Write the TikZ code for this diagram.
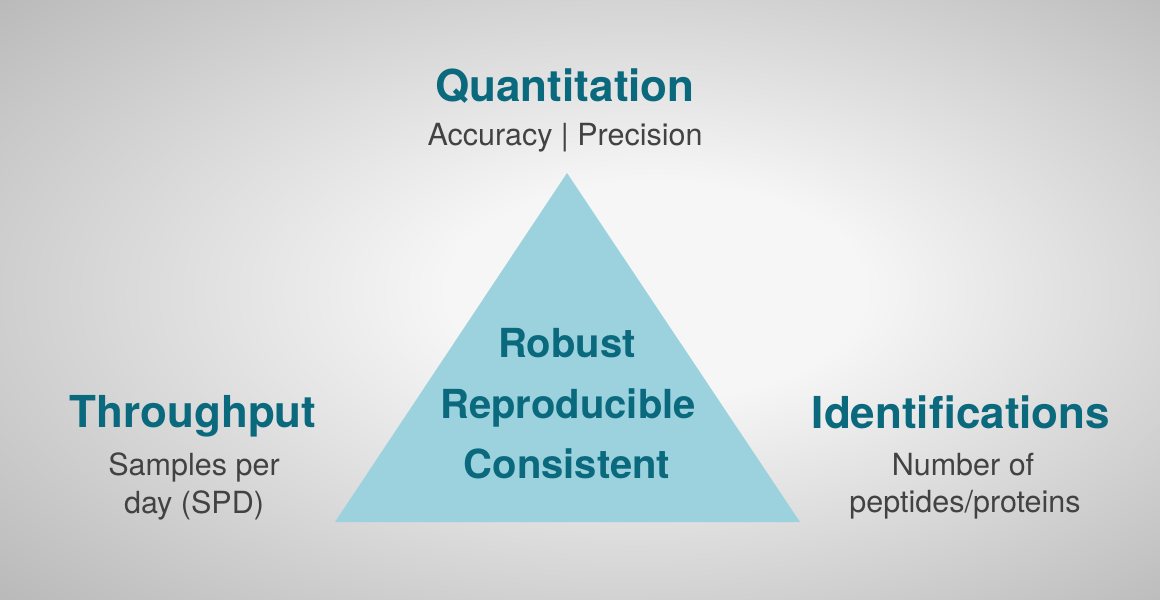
\documentclass[tikz,border=0pt]{standalone}
\usepackage{fontspec}
\setmainfont{TeX Gyre Heros}
\definecolor{bgin}{HTML}{F6F6F6}
\definecolor{bgout}{HTML}{BABABA}
\definecolor{tri}{HTML}{9BD2DE}
\definecolor{teal}{HTML}{0B697D}
\definecolor{subgrey}{HTML}{424242}
\pgfdeclareradialshading{bgshade}{\pgfpoint{4bp}{1bp}}{color(0bp)=(bgin); color(9bp)=(bgin); color(36bp)=(bgout); color(50bp)=(bgout)}
\tikzset{
  head/.style={text=teal, font=\bfseries\fontsize{44}{48}\selectfont, anchor=base, inner sep=0pt},
  sub/.style={text=subgrey, font=\fontsize{30.5}{34}\selectfont, anchor=base, inner sep=0pt},
  core/.style={text=teal, font=\bfseries\fontsize{40}{44}\selectfont, anchor=base, inner sep=0pt},
}
\begin{document}
\begin{tikzpicture}[x=1pt,y=-1pt]
\useasboundingbox (0,0) rectangle (1160,600);
\shade[shading=bgshade] (0,0) rectangle (1160,600);
% triangle
\coordinate (apex) at (567,173);
\coordinate (bl) at (335,522);
\coordinate (br) at (800,522);
\fill[tri] (apex) -- (br) -- (bl) -- cycle;
% top
\node[head] (quant) at (565,101) {Quantitation};
\node[sub] (quantsub) at (565,145) {Accuracy | Precision};
% centre
\node[core] (robust) at (567,357) {Robust};
\node[core] (repro) at (568,418) {Reproducible};
\node[core] (consist) at (567,478) {Consistent};
% left
\node[head] (through) at (193,427) {Throughput};
\node[sub] (thr1) at (194,475) {Samples per};
\node[sub] (thr2) at (194,513) {day (SPD)};
% right
\node[head] (ident) at (961,428) {Identifications};
\node[sub] (id1) at (963,475) {Number of};
\node[sub] (id2) at (965,512) {peptides/proteins};
\end{tikzpicture}
\end{document}
